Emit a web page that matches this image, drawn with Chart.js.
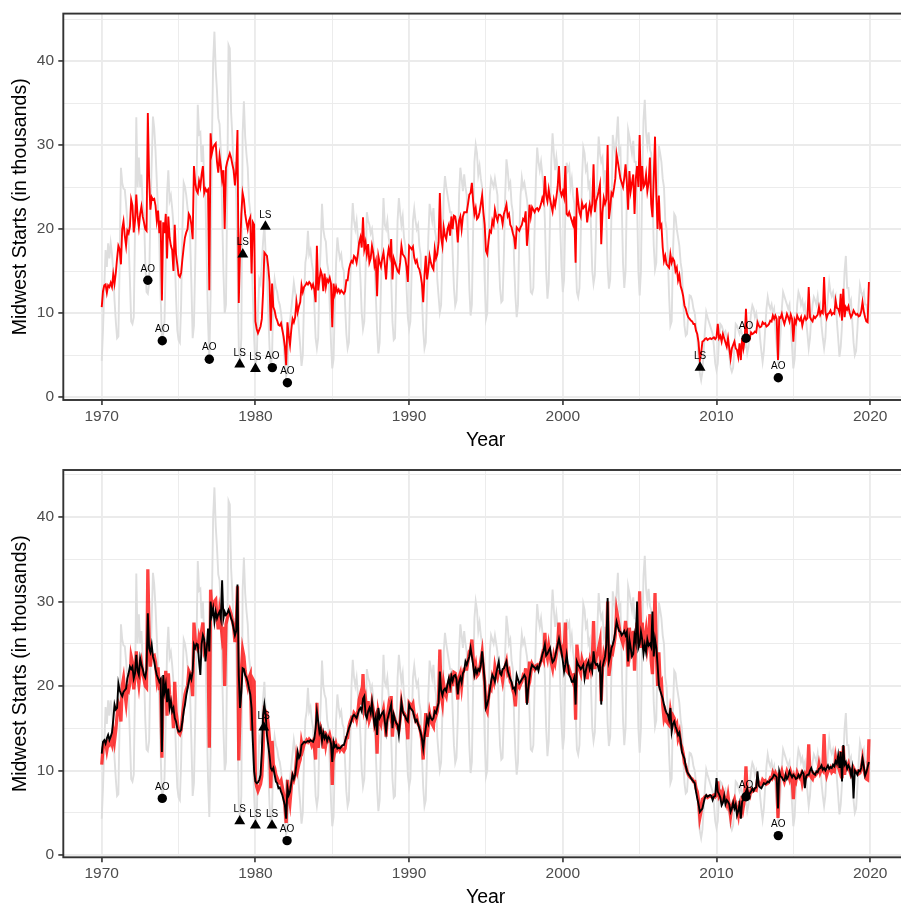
<!DOCTYPE html>
<html>
<head>
<meta charset="utf-8">
<script src="https://cdn.jsdelivr.net/npm/chart.js@4.4.0/dist/chart.umd.min.js"></script>
<style>
html, body { margin:0; padding:0; background:#fff; width:901px; height:906px; overflow:hidden; }
#marco { position:relative; width:901px; height:906px; overflow:hidden; }
#panel_top { position:absolute; left:0; top:0; width:908px; height:450px; }
#panel_bottom { position:absolute; left:0; top:450px; width:908px; height:456px; }
</style>
</head>
<body>
<div id="marco">
<canvas id="panel_top" width="908" height="450"></canvas>
<canvas id="panel_bottom" width="908" height="456"></canvas>
</div>
<script>
// monthly series, Jan 1970 .. Dec 2019
var startYear = 1970;

// original (not adjusted) starts, grey
var greyNSA = [
 4.3, 8.0, 13.0, 17.5, 15.5, 18.3, 16.5, 18.3, 17.0, 15.0, 11.5, 9.0,
 7.0, 7.2, 16.0, 27.3, 25.5, 24.8, 24.7, 23.0, 21.0, 18.5, 14.0, 9.0,
 8.7, 9.5, 20.0, 33.3, 25.0, 28.5, 25.0, 26.5, 23.0, 22.0, 16.0, 12.5,
 12.3, 13.5, 22.0, 27.7, 33.4, 32.0, 29.3, 25.7, 22.0, 18.2, 12.0, 7.0,
 7.5, 9.0, 16.0, 24.1, 27.0, 23.4, 24.0, 22.5, 20.5, 17.0, 12.0, 8.0,
 6.8, 6.5, 11.0, 20.0, 25.5, 25.0, 24.0, 22.5, 21.0, 19.0, 13.5, 7.0,
 8.5, 16.0, 25.0, 34.8, 31.3, 31.5, 28.0, 30.0, 26.0, 23.7, 16.0, 9.0,
 4.5, 12.0, 30.0, 40.0, 43.5, 39.0, 36.4, 33.2, 32.5, 29.3, 22.0, 15.0,
 10.0, 11.0, 24.0, 41.9, 41.5, 34.0, 31.0, 26.5, 28.0, 24.0, 16.0, 6.0,
 4.2, 7.0, 31.3, 35.2, 31.0, 28.9, 27.3, 23.4, 22.0, 17.4, 12.0, 7.0,
 3.8, 4.5, 10.0, 14.0, 13.5, 16.0, 18.5, 20.5, 17.0, 15.0, 10.0, 6.0,
 3.5, 5.0, 12.0, 14.0, 13.0, 12.5, 11.5, 11.0, 10.0, 8.5, 6.5, 4.0,
 2.5, 3.0, 7.0, 9.0, 10.5, 12.0, 13.6, 12.5, 11.5, 10.5, 8.0, 6.0,
 3.7, 5.0, 12.0, 16.0, 17.0, 19.8, 17.0, 17.5, 16.0, 15.0, 11.0, 7.0,
 5.8, 7.0, 14.0, 18.0, 23.0, 20.0, 19.0, 18.5, 16.0, 15.0, 11.0, 6.5,
 3.4, 4.5, 11.0, 16.0, 19.0, 17.5, 16.5, 17.0, 15.5, 15.0, 11.0, 7.5,
 5.8, 6.5, 13.0, 20.0, 23.1, 21.0, 20.0, 21.0, 19.0, 17.0, 14.0, 10.0,
 8.1, 9.0, 15.0, 22.0, 21.0, 20.5, 19.5, 20.0, 18.5, 16.0, 12.0, 8.0,
 5.2, 6.5, 13.0, 19.0, 23.7, 20.5, 20.0, 21.0, 19.0, 18.0, 14.0, 9.0,
 6.8, 7.0, 14.0, 21.0, 23.7, 22.0, 20.5, 21.5, 19.0, 18.0, 13.0, 9.5,
 8.1, 9.0, 15.0, 21.0, 22.4, 21.0, 20.0, 20.5, 18.0, 17.0, 12.0, 8.0,
 5.8, 6.5, 12.0, 19.0, 23.0, 22.0, 21.0, 22.5, 20.0, 19.0, 14.0, 12.0,
 10.1, 11.0, 17.0, 24.0, 26.3, 25.0, 24.0, 23.0, 22.0, 22.0, 17.0, 13.0,
 10.9, 11.5, 16.0, 24.0, 27.3, 26.0, 24.5, 26.5, 25.0, 24.0, 19.0, 13.0,
 9.7, 11.0, 20.0, 28.0, 30.0, 29.0, 26.5, 27.5, 26.0, 25.0, 20.0, 14.0,
 9.3, 10.0, 18.0, 24.0, 26.0, 25.5, 25.0, 26.0, 25.0, 24.0, 17.0, 13.0,
 11.3, 11.5, 17.0, 24.0, 28.3, 27.0, 25.0, 25.5, 23.0, 22.0, 16.0, 12.0,
 9.5, 11.0, 19.0, 24.0, 26.1, 25.0, 25.5, 24.5, 23.5, 22.0, 17.0, 12.5,
 12.3, 13.0, 20.0, 26.0, 29.7, 28.0, 27.0, 28.0, 26.5, 25.0, 21.0, 15.0,
 11.7, 13.5, 21.0, 28.0, 31.4, 29.0, 27.0, 28.5, 27.0, 25.0, 20.0, 15.5,
 12.5, 14.0, 22.0, 27.9, 27.0, 27.5, 25.0, 26.0, 24.0, 23.0, 17.0, 12.5,
 11.9, 13.0, 19.0, 26.0, 29.7, 29.0, 27.0, 27.5, 25.0, 25.5, 20.0, 15.0,
 13.5, 14.5, 20.0, 27.0, 31.0, 29.0, 28.0, 28.5, 26.0, 27.0, 21.0, 15.5,
 12.9, 14.0, 22.0, 31.2, 30.0, 29.0, 31.0, 33.4, 29.0, 29.5, 23.0, 16.0,
 13.0, 15.0, 24.0, 31.8, 31.0, 30.0, 29.0, 30.5, 28.0, 28.0, 23.0, 15.0,
 12.1, 15.0, 26.0, 33.0, 35.4, 31.5, 30.0, 31.5, 29.5, 29.0, 24.0, 18.0,
 15.2, 16.0, 24.0, 29.9, 29.0, 28.0, 26.0, 25.0, 21.0, 20.0, 17.0, 12.0,
 8.5, 9.0, 17.0, 21.8, 21.5, 20.0, 19.0, 18.0, 16.0, 15.0, 11.5, 8.5,
 7.3, 7.5, 10.0, 12.1, 12.0, 11.5, 10.5, 10.0, 8.5, 7.0, 4.5, 2.8,
 2.0, 3.0, 5.5, 8.0, 10.1, 9.5, 9.0, 8.5, 8.0, 7.5, 6.0, 4.0,
 3.2, 4.0, 7.0, 8.7, 8.5, 8.0, 7.5, 7.8, 7.0, 6.5, 5.0, 3.5,
 3.0, 3.5, 6.0, 8.7, 8.5, 8.0, 7.5, 8.0, 7.5, 7.0, 6.0, 6.5,
 5.2, 6.0, 8.5, 10.0, 10.9, 10.5, 9.5, 10.0, 9.0, 9.0, 7.0, 5.5,
 4.2, 5.5, 8.0, 10.5, 11.9, 11.0, 10.5, 11.0, 10.0, 10.5, 8.0, 6.0,
 4.4, 5.0, 7.5, 10.5, 12.5, 12.0, 11.5, 11.0, 10.5, 11.0, 8.5, 6.0,
 3.4, 4.5, 8.0, 11.0, 12.5, 12.0, 11.0, 11.5, 10.5, 11.0, 9.0, 7.5,
 5.8, 7.0, 9.5, 11.0, 11.9, 11.5, 11.0, 12.0, 10.5, 11.0, 8.5, 7.0,
 5.8, 7.0, 10.0, 12.0, 13.7, 12.5, 12.0, 12.5, 11.5, 12.0, 9.0, 7.0,
 4.8, 6.0, 8.5, 11.5, 15.0, 16.8, 13.0, 13.0, 11.0, 11.5, 9.0, 6.5,
 5.0, 5.5, 8.0, 11.0, 13.3, 12.5, 12.0, 12.5, 11.0, 11.0, 10.0, 10.1
];

// seasonally adjusted with outliers kept, red
var redSA = [
 10.7, 12.6, 13.3, 13.4, 12.4, 13.3, 13.1, 13.6, 13.1, 14.6, 13.5, 14.8,
 16.5, 18.0, 17.6, 15.8, 20.0, 20.9, 19.2, 18.0, 19.8, 19.5, 20.3, 23.5,
 22.8, 19.6, 21.0, 24.1, 21.5, 20.2, 21.8, 22.7, 21.5, 20.8, 20.0, 19.8,
 33.8, 26.0, 22.3, 23.8, 23.5, 23.6, 22.8, 21.0, 22.2, 19.5, 21.0, 11.5,
 20.8, 19.5, 21.8, 16.5, 21.5, 19.0, 18.0, 17.5, 15.0, 20.5, 17.0, 15.8,
 14.5, 14.3, 14.8, 16.4, 17.8, 19.0, 19.6, 20.0, 21.8, 21.5, 20.5, 18.8,
 27.5, 25.5, 24.6, 24.3, 25.7, 25.0, 26.5, 27.5, 24.3, 24.8, 24.5, 24.7,
 12.7, 31.4, 29.0, 29.7, 30.0, 30.2, 28.0, 26.7, 28.7, 27.5, 25.9, 27.0,
 20.0, 27.3, 28.0, 28.5, 29.0, 28.5, 27.7, 27.0, 25.2, 27.0, 31.8, 11.2,
 17.4, 21.8, 24.3, 23.5, 21.8, 20.8, 20.0, 21.0, 21.4, 14.7, 20.8, 20.5,
 9.0, 8.1, 7.6, 8.0, 8.4, 9.3, 12.5, 17.2, 17.0, 16.8, 15.5, 13.7,
 7.9, 13.5, 10.7, 10.3, 9.5, 9.1, 8.6, 8.5, 8.8, 8.0, 7.2, 6.0,
 3.8, 8.9, 7.3, 6.2, 8.0, 9.3, 8.9, 9.5, 11.3, 10.1, 10.8, 11.3,
 13.3, 12.5, 13.1, 13.3, 13.6, 13.4, 13.7, 13.5, 13.0, 13.4, 12.8, 11.3,
 18.0, 12.7, 14.0, 15.0, 14.5, 12.6, 14.7, 13.1, 14.0, 13.7, 14.2, 13.5,
 8.3, 13.5, 12.3, 13.1, 12.5, 12.8, 12.4, 12.7, 12.5, 12.3, 12.6, 13.9,
 13.9, 15.2, 15.8, 16.2, 16.0, 16.8, 16.6, 16.0, 17.0, 18.4, 19.0, 17.8,
 21.4, 17.6, 18.4, 17.0, 18.2, 16.0, 16.5, 18.0, 17.2, 15.6, 16.2, 12.0,
 16.8, 16.0, 15.5, 16.5, 17.2, 15.8, 14.0, 16.5, 17.6, 16.8, 18.8, 14.0,
 16.5, 16.0, 15.5, 15.0, 14.8, 16.0, 18.0, 17.0, 16.8, 16.5, 15.5, 13.7,
 18.0, 17.8, 17.6, 17.9, 16.6, 16.0, 16.3, 15.5, 15.2, 14.5, 13.5, 11.3,
 14.5, 16.8, 14.0, 15.2, 16.8, 16.0, 15.5, 15.2, 17.6, 16.5, 17.0, 18.4,
 24.3, 19.0, 18.0, 20.2, 19.2, 18.8, 20.0, 20.5, 19.2, 21.5, 20.0, 21.6,
 21.5, 20.5, 18.4, 21.0, 21.5, 20.0, 21.5, 22.0, 22.0, 22.0, 23.0, 24.1,
 24.3, 25.5, 23.3, 21.8, 22.5, 21.2, 21.4, 22.0, 23.0, 24.0, 22.0, 20.5,
 17.4, 17.0, 18.6, 19.8, 19.6, 21.0, 20.5, 22.3, 21.5, 21.0, 21.7, 21.7,
 21.5, 20.6, 21.8, 22.3, 22.9, 21.5, 21.8, 20.5, 20.2, 19.5, 19.0, 17.6,
 20.2, 20.0, 19.8, 20.2, 20.5, 21.2, 21.0, 22.1, 18.0, 19.8, 22.9, 21.5,
 22.6, 22.3, 22.0, 22.4, 22.5, 22.2, 22.5, 23.0, 23.7, 23.2, 26.3, 24.0,
 23.3, 24.7, 23.6, 22.8, 22.1, 23.5, 22.8, 23.8, 25.1, 27.5, 24.6, 24.0,
 24.5, 23.8, 27.5, 21.8, 21.6, 22.0, 21.5, 21.0, 20.5, 21.5, 16.0, 24.9,
 23.3, 22.0, 21.5, 23.1, 22.5, 22.7, 22.9, 20.8, 22.0, 22.9, 22.0, 23.0,
 27.7, 22.0, 23.3, 23.8, 24.5, 25.3, 18.2, 22.0, 23.7, 23.0, 23.5, 30.0,
 21.2, 22.5, 24.3, 24.0, 24.9, 26.0, 28.9, 28.0, 27.0, 26.0, 25.5, 25.0,
 26.1, 27.7, 25.5, 22.3, 26.9, 24.5, 25.5, 26.5, 21.8, 26.0, 27.5, 25.0,
 31.2, 24.5, 27.5, 25.0, 25.3, 26.5, 24.5, 25.5, 28.5, 23.0, 21.4, 26.0,
 31.0, 24.1, 20.0, 24.0, 20.2, 20.5, 17.8, 16.2, 16.8, 15.8, 15.6, 15.4,
 17.0, 16.0, 16.5, 16.2, 15.0, 15.4, 13.9, 14.5, 13.2, 12.7, 12.0, 10.9,
 10.5, 9.9, 9.5, 9.3, 9.1, 9.0, 8.7, 8.7, 7.9, 7.5, 6.5, 4.4,
 5.2, 6.6, 6.7, 6.9, 7.0, 6.8, 6.9, 7.0, 6.9, 7.0, 7.1, 6.9,
 7.1, 8.7, 7.0, 7.3, 6.6, 7.5, 7.0, 6.5, 6.0, 7.0, 5.8, 4.6,
 5.8, 6.2, 6.6, 5.8, 5.6, 4.8, 6.4, 4.4, 7.0, 5.8, 6.8, 10.5,
 7.1, 7.3, 7.0, 7.7, 7.5, 7.6, 7.8, 7.7, 8.9, 8.5, 8.3, 8.4,
 8.9, 8.7, 8.8, 8.4, 8.5, 8.7, 9.1, 9.0, 9.7, 9.3, 9.7, 9.3,
 4.4, 9.5, 9.4, 9.9, 9.2, 8.7, 9.3, 9.9, 9.5, 9.0, 9.8, 9.3,
 6.6, 9.2, 8.8, 9.7, 9.3, 9.1, 9.5, 8.5, 9.2, 9.6, 9.2, 9.4,
 13.1, 9.5, 9.2, 9.0, 9.6, 9.4, 9.6, 9.8, 10.7, 9.8, 10.2, 10.0,
 14.3, 10.2, 9.4, 9.9, 10.0, 10.3, 9.8, 10.0, 9.9, 11.5, 10.6, 10.5,
 10.0, 12.3, 9.1, 12.9, 9.5, 10.7, 10.4, 10.8, 10.0, 9.5, 9.8, 10.3,
 10.0, 9.8, 9.9, 9.6, 9.7, 10.2, 11.3, 10.2, 9.5, 9.0, 8.9, 13.7
];

// second adjustment, black (bottom panel only)
var blackSA = [
 12.0, 13.4, 13.6, 13.2, 13.8, 14.2, 13.6, 14.0, 14.5, 16.0, 17.8, 17.2,
 17.4, 20.3, 19.5, 19.1, 18.8, 19.3, 19.5, 19.7, 20.9, 21.5, 22.3, 22.0,
 22.3, 20.9, 21.5, 23.7, 21.8, 21.3, 23.3, 22.5, 22.0, 21.3, 21.0, 22.0,
 28.6, 24.5, 24.0, 24.9, 23.5, 22.9, 22.0, 21.3, 20.9, 20.5, 20.8, 12.2,
 21.3, 19.3, 20.2, 18.1, 19.7, 17.4, 18.2, 17.0, 17.4, 16.2, 15.8, 15.0,
 14.6, 14.6, 14.8, 15.8, 17.0, 17.8, 18.9, 19.7, 20.5, 21.3, 20.8, 21.7,
 24.9, 24.5, 25.0, 24.9, 22.9, 21.3, 25.0, 26.0, 25.5, 22.9, 24.5, 26.8,
 24.1, 30.0, 28.4, 29.2, 27.6, 28.8, 28.0, 28.5, 28.8, 28.0, 32.5, 28.0,
 28.8, 28.4, 28.6, 29.0, 28.6, 28.0, 27.6, 26.8, 26.0, 26.5, 32.0, 21.3,
 17.4, 19.3, 22.1, 22.0, 21.3, 21.0, 20.5, 19.7, 19.0, 17.4, 13.4, 9.9,
 8.7, 8.5, 8.6, 8.9, 9.5, 12.2, 16.6, 17.8, 16.6, 14.2, 13.0, 11.8,
 10.3, 10.0, 10.3, 9.5, 8.7, 8.5, 7.9, 8.0, 7.5, 7.1, 6.5, 5.9,
 4.3, 8.0, 7.1, 7.5, 8.5, 9.5, 9.0, 9.5, 10.7, 12.2, 11.5, 11.8,
 13.0, 13.2, 13.4, 13.3, 13.4, 13.5, 13.4, 13.6, 13.5, 13.4, 13.8, 15.0,
 17.0, 15.8, 14.5, 15.0, 13.5, 14.5, 13.8, 14.2, 13.5, 14.0, 13.8, 13.2,
 11.0, 13.4, 12.8, 13.0, 12.6, 12.7, 12.6, 12.8, 13.0, 13.0, 13.5, 14.0,
 14.5, 15.0, 15.4, 15.9, 16.4, 16.6, 16.4, 16.2, 16.7, 17.2, 17.4, 17.0,
 18.5, 18.8, 16.6, 16.2, 17.0, 17.4, 16.8, 18.1, 16.5, 15.4, 16.3, 14.2,
 17.4, 16.2, 16.5, 16.8, 17.0, 15.8, 14.6, 16.0, 16.6, 17.2, 17.8, 15.0,
 16.6, 16.0, 15.6, 15.4, 14.2, 16.0, 18.1, 17.0, 16.6, 16.4, 16.0, 15.8,
 17.8, 17.4, 17.2, 17.0, 16.4, 15.8, 16.0, 15.5, 15.0, 14.5, 13.8, 12.6,
 14.0, 15.0, 16.2, 15.6, 16.6, 16.2, 16.0, 16.2, 17.0, 16.8, 17.4, 18.0,
 21.7, 19.5, 18.9, 19.5, 19.7, 19.4, 20.2, 20.9, 20.0, 21.2, 20.6, 21.2,
 21.3, 20.8, 19.0, 20.5, 21.0, 20.4, 21.5, 21.8, 22.9, 22.5, 23.0, 23.5,
 24.5, 23.5, 22.5, 21.3, 22.0, 21.5, 22.0, 21.8, 22.5, 24.1, 22.5, 20.5,
 17.4, 17.8, 18.5, 19.5, 20.5, 21.3, 21.0, 20.5, 21.5, 22.2, 22.9, 21.5,
 21.3, 22.0, 22.1, 22.5, 22.9, 21.8, 21.3, 20.8, 20.5, 19.7, 19.8, 19.3,
 21.3, 20.8, 20.3, 20.5, 20.8, 21.0, 21.3, 21.0, 17.8, 19.7, 21.0, 22.0,
 22.5, 22.3, 22.2, 22.0, 22.3, 21.8, 22.6, 23.0, 23.7, 24.2, 24.9, 23.6,
 23.8, 24.2, 24.5, 23.5, 22.8, 23.0, 23.5, 24.2, 24.9, 25.6, 24.8, 24.0,
 23.0, 21.7, 22.5, 23.7, 22.5, 21.3, 21.0, 20.5, 20.5, 21.0, 17.8, 22.9,
 22.5, 22.3, 22.0, 22.2, 22.5, 20.9, 21.8, 22.5, 22.9, 22.0, 22.5, 21.8,
 24.1, 22.8, 22.5, 22.6, 22.0, 22.5, 17.8, 22.2, 22.9, 23.5, 24.9, 30.4,
 22.9, 23.5, 24.5, 24.9, 25.5, 26.5, 27.6, 27.0, 26.5, 26.4, 26.0, 26.2,
 26.5, 26.0, 26.4, 22.9, 25.5, 24.5, 23.5, 23.8, 26.0, 25.2, 30.0, 24.5,
 25.0, 26.4, 25.5, 23.8, 24.9, 24.0, 25.5, 24.8, 25.0, 24.6, 28.8, 23.5,
 25.5, 24.5, 22.5, 20.1, 19.5, 19.0, 18.5, 17.8, 17.2, 16.8, 16.6, 16.0,
 17.4, 14.6, 15.5, 15.8, 15.2, 14.8, 14.2, 14.5, 13.5, 12.2, 11.8, 11.4,
 10.5, 9.9, 9.6, 9.4, 9.1, 8.9, 8.7, 8.5, 7.5, 6.7, 6.0, 5.1,
 5.3, 5.5, 6.2, 6.8, 7.1, 6.9, 7.0, 7.1, 7.0, 6.5, 6.9, 7.0,
 9.1, 7.5, 7.2, 6.8, 5.9, 6.2, 7.0, 6.0, 6.5, 6.3, 6.0, 5.1,
 5.5, 6.2, 5.5, 6.0, 4.7, 5.2, 6.0, 4.3, 6.3, 6.6, 7.0, 7.5,
 7.9, 7.0, 7.3, 7.5, 7.9, 7.6, 7.9, 8.0, 9.9, 8.2, 8.0, 7.9,
 8.2, 8.5, 8.4, 8.5, 8.7, 8.6, 8.9, 9.0, 9.2, 9.5, 9.4, 9.2,
 5.5, 9.9, 9.3, 9.2, 8.9, 8.8, 9.5, 9.0, 9.3, 9.9, 9.5, 9.2,
 9.5, 9.3, 9.0, 9.1, 9.5, 9.2, 9.5, 9.9, 9.6, 7.9, 9.3, 9.5,
 9.5, 10.0, 10.3, 9.8, 9.6, 9.5, 9.9, 9.8, 10.2, 10.3, 10.6, 10.1,
 10.3, 10.0, 10.3, 10.6, 10.2, 10.4, 10.3, 10.7, 10.5, 11.1, 10.8, 11.8,
 10.3, 12.2, 8.7, 13.0, 10.7, 11.0, 10.2, 10.6, 10.3, 9.5, 10.3, 6.7,
 10.0, 9.8, 9.5, 10.0, 9.9, 10.3, 11.4, 10.5, 9.4, 9.8, 10.4, 11.0
];

// tick positions
var tickYears = [1970, 1975, 1980, 1985, 1990, 1995, 2000, 2005, 2010, 2015, 2020];
var tickStarts = [0, 5, 10, 15, 20, 25, 30, 35, 40, 45];

// outliers found, top panel
var aoYearsTop = [1973.0, 1973.94, 1977.0, 1981.1, 1982.08, 2011.92, 2014.02];
var aoValuesTop = [13.9, 6.7, 4.5, 3.5, 1.7, 7.0, 2.3];
var lsYearsTop = [1978.98, 1979.18, 1980.0, 1980.65, 2008.93];
var lsValuesTop = [3.9, 17.0, 3.35, 20.3, 3.5];

// outliers kept, bottom panel
var aoYearsBottom = [1973.94, 1982.06, 2011.92, 2014.02];
var aoValuesBottom = [6.7, 1.7, 6.9, 2.3];
var lsYearsBottom = [1978.98, 1980.0, 1980.54, 1981.08];
var lsValuesBottom = [4.0, 3.5, 15.1, 3.5];

var fuente = "'Liberation Sans', Arial, Helvetica, sans-serif";

function aPuntos(valores) {
	return valores.map(function (v, i) { return { x: startYear + i / 12, y: v }; });
}

function aMarcas(anios, valores) {
	return anios.map(function (a, i) { return { x: a, y: valores[i] }; });
}

function serie(valores, color, ancho, orden) {
	return {
		data: aPuntos(valores),
		borderColor: color,
		borderWidth: ancho,
		pointRadius: 0,
		tension: 0,
		fill: false,
		order: orden
	};
}

function marcas(anios, valores, estilo, radio, texto) {
	return {
		data: aMarcas(anios, valores),
		showLine: false,
		pointStyle: estilo,
		pointRadius: radio,
		pointBackgroundColor: '#000',
		pointBorderWidth: 0,
		etiqueta: texto,
		order: 0
	};
}

// labels over the outlier marks + panel border on top of the lines
var etiquetasYBorde = {
	id: 'etiquetasYBorde',
	afterDatasetsDraw: function (chart) {
		var c = chart.ctx;
		c.save();
		c.font = '10px ' + fuente;
		c.fillStyle = '#000';
		c.textAlign = 'center';
		c.textBaseline = 'middle';
		chart.data.datasets.forEach(function (ds, di) {
			if (!ds.etiqueta) return;
			chart.getDatasetMeta(di).data.forEach(function (p) {
				c.fillText(ds.etiqueta, p.x, p.y - 11.5);
			});
		});
		var a = chart.chartArea;
		c.strokeStyle = '#333333';
		c.lineWidth = 1.9;
		c.strokeRect(a.left, a.top, a.right - a.left, a.bottom - a.top);
		c.restore();
	}
};

function esMayor(v) { return Math.abs(v % 10) < 1e-9; }

function gridOpts() {
	return {
		color: '#ebebeb',
		lineWidth: function (ctx) { return ctx.tick && esMayor(ctx.tick.value) ? 1.9 : 0.95; },
		drawTicks: true,
		tickLength: 5,
		tickWidth: 1.6,
		tickColor: function (ctx) { return ctx.tick && esMayor(ctx.tick.value) ? '#333333' : 'rgba(0,0,0,0)'; }
	};
}

function dibujarPanel(id, datasets, yMin, yMax, arriba, altoEjeX, bajoTitulo) {
	return new Chart(document.getElementById(id).getContext('2d'), {
		type: 'line',
		data: { datasets: datasets },
		options: {
			responsive: false,
			animation: false,
			devicePixelRatio: 1,
			layout: { autoPadding: false, padding: { top: arriba, left: 0, right: 0, bottom: 0 } },
			plugins: { legend: { display: false }, tooltip: { enabled: false } },
			scales: {
				x: {
					type: 'linear',
					min: 1967.5,
					max: 2022.46,
					afterBuildTicks: function (s) { s.ticks = tickYears.map(function (v) { return { value: v }; }); },
					afterFit: function (s) { s.height = altoEjeX; },
					grid: gridOpts(),
					border: { display: false },
					ticks: {
						autoSkip: false, maxRotation: 0, padding: 2.4,
						color: '#4d4d4d', font: { family: fuente, size: 15.5 },
						callback: function (v) { return esMayor(v) ? String(v) : ''; }
					},
					title: { display: true, text: 'Year', color: '#000', font: { family: fuente, size: 19.5 }, padding: { top: 0, bottom: bajoTitulo } }
				},
				y: {
					type: 'linear',
					min: yMin,
					max: yMax,
					afterBuildTicks: function (s) { s.ticks = tickStarts.map(function (v) { return { value: v }; }); },
					afterFit: function (s) { s.width = 63.3; },
					grid: gridOpts(),
					border: { display: false },
					ticks: {
						autoSkip: false, padding: 4.3,
						color: '#4d4d4d', font: { family: fuente, size: 15.5 },
						callback: function (v) { return esMayor(v) ? String(v) : ''; }
					},
					title: { display: true, text: 'Midwest Starts (in thousands)', color: '#000', font: { family: fuente, size: 19.5 }, padding: { top: 9.3, bottom: 0 } }
				}
			}
		},
		plugins: [etiquetasYBorde]
	});
}

window.panelArriba = dibujarPanel('panel_top', [
	serie(greyNSA, '#dedede', 1.9, 3),
	serie(redSA, '#ff0000', 1.9, 2),
	marcas(aoYearsTop, aoValuesTop, 'circle', 4.7, 'AO'),
	marcas(lsYearsTop, lsValuesTop, 'triangle', 6.3, 'LS')
], -0.355, 45.65, 11.7, 50, -2);

window.panelAbajo = dibujarPanel('panel_bottom', [
	serie(greyNSA, '#dedede', 1.9, 3),
	serie(redSA, 'rgba(255,0,0,0.75)', 3.3, 2),
	serie(blackSA, '#000000', 1.9, 1),
	marcas(aoYearsBottom, aoValuesBottom, 'circle', 4.7, 'AO'),
	marcas(lsYearsBottom, lsValuesBottom, 'triangle', 6.3, 'LS')
], -0.27, 45.56, 20, 48.7, -3);
</script>
</body>
</html>
